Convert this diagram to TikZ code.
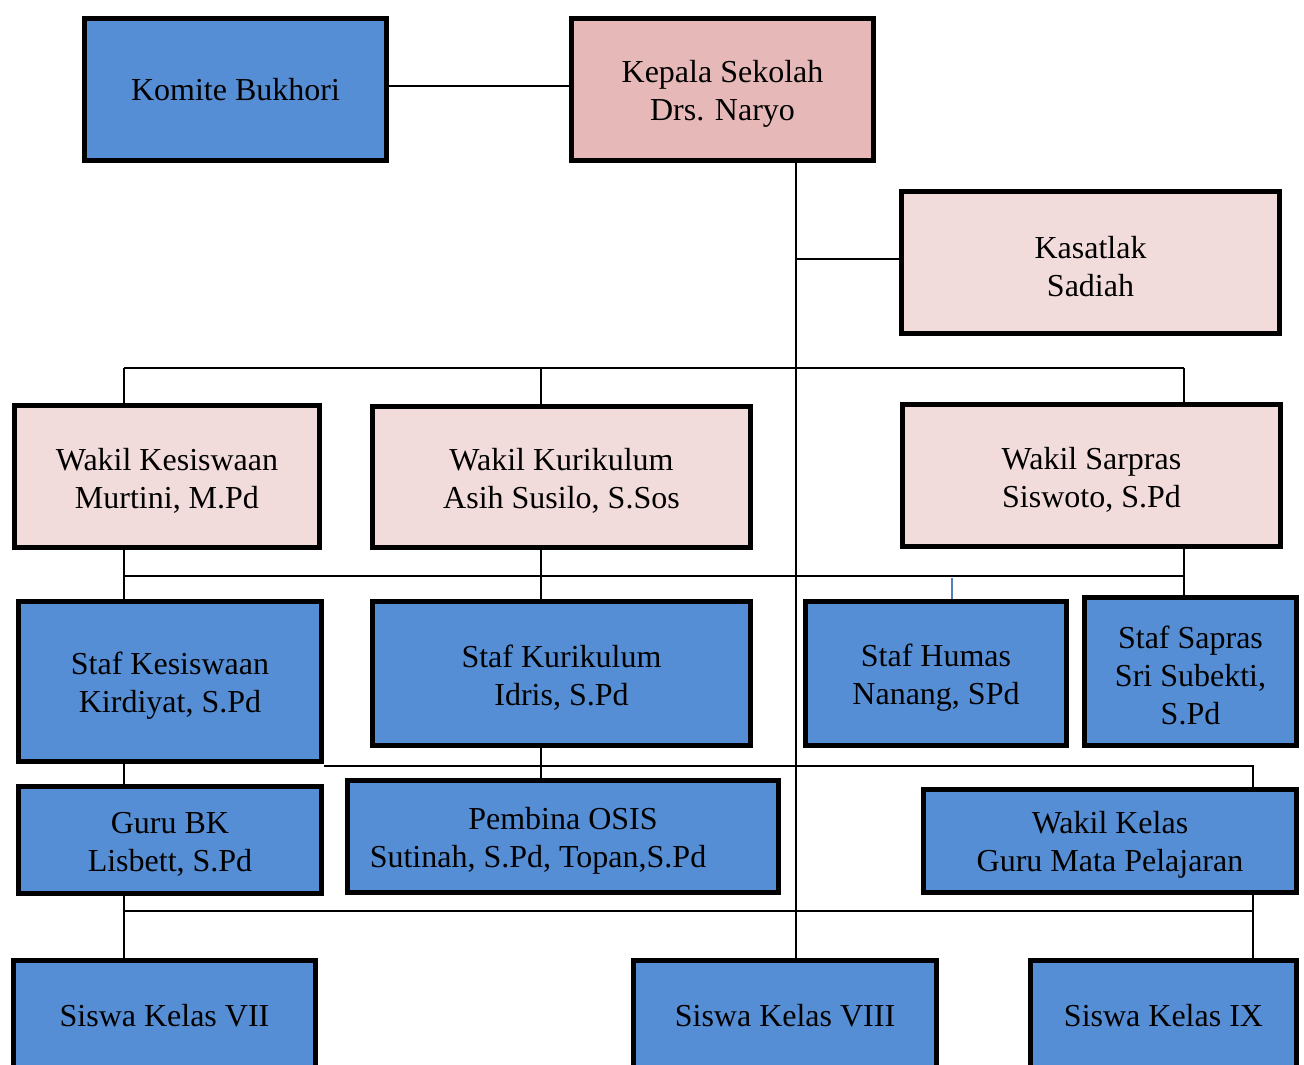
\documentclass[tikz,border=0pt]{standalone}
\usepackage{fontspec}
\setmainfont{Liberation Serif}
\definecolor{boxblue}{HTML}{558ED5}
\definecolor{boxpink}{HTML}{E6B9B8}
\definecolor{boxlight}{HTML}{F2DCDB}
\definecolor{tickblue}{HTML}{4F81BD}
\tikzset{
  orgbox/.style={draw=black, line width=2.5pt, rectangle, inner sep=0pt},
  bluebox/.style={orgbox, fill=boxblue},
  pinkbox/.style={orgbox, fill=boxpink},
  lightbox/.style={orgbox, fill=boxlight},
  boxtext/.style={inner sep=0pt, align=center, font=\fontsize{16}{19}\selectfont},
  conn/.style={draw=black, line width=1pt}
}
\newcommand\orgnode[8][-2pt]{%
  \node[#3, minimum width={(#6-#4)*0.5pt-2.5pt}, minimum height={(#7-#5)*0.5pt-2.5pt}]
    (#2) at ({(#4+#6)/2},{(#5+#7)/2}) {};
  \node[boxtext, yshift=#1] (#2t) at (#2.center) {#8};}
\begin{document}
\begin{tikzpicture}[x=0.5pt,y=-0.5pt]
\useasboundingbox (0,0) rectangle (1304,1064);
\clip (0,0) rectangle (1304,1064);
% boxes
\orgnode[0pt]{komite}{bluebox}{82}{16}{389}{163}{Komite Bukhori}
\orgnode{kepala}{pinkbox}{569}{16}{876}{163}{Kepala Sekolah\\Drs. Naryo}
\orgnode{kasatlak}{lightbox}{899}{189}{1282}{336}{Kasatlak\\Sadiah}
\orgnode{wks}{lightbox}{12}{403}{322}{550}{Wakil Kesiswaan\\Murtini, M.Pd}
\orgnode{wkr}{lightbox}{370}{404}{753}{550}{Wakil Kurikulum\\Asih Susilo, S.Sos}
\orgnode{wsp}{lightbox}{900}{402}{1283}{549}{Wakil Sarpras\\Siswoto, S.Pd}
\orgnode{sks}{bluebox}{16}{599}{324}{764}{Staf Kesiswaan\\Kirdiyat, S.Pd}
\orgnode{skr}{bluebox}{370}{599}{753}{748}{Staf Kurikulum\\Idris, S.Pd}
\orgnode{shm}{bluebox}{803}{599}{1069}{748}{Staf Humas\\Nanang, SPd}
\orgnode{ssp}{bluebox}{1082}{595}{1299}{748}{Staf Sapras\\Sri Subekti,\\S.Pd}
\orgnode{gbk}{bluebox}{16}{784}{324}{896}{Guru BK\\Lisbett, S.Pd}
\orgnode{pos}{bluebox}{345}{778}{781}{895}{Pembina OSIS\\Sutinah, S.Pd, Topan,S.Pd\rule{25pt}{0pt}}
\orgnode{wkl}{bluebox}{921}{787}{1299}{895}{Wakil Kelas\\Guru Mata Pelajaran}
\orgnode[0pt]{s7}{bluebox}{11}{958}{318}{1074}{Siswa Kelas VII}
\orgnode[0pt]{s8}{bluebox}{631}{958}{939}{1074}{Siswa Kelas VIII}
\orgnode[0pt]{s9}{bluebox}{1028}{958}{1299}{1074}{Siswa Kelas IX}
% helper coordinates
\coordinate (spine) at (796,0);
\coordinate (xA) at (124,0);
\coordinate (xB) at (541,0);
\coordinate (xC) at (1184,0);
\coordinate (xD) at (1253,0);
\coordinate (xT) at (952,0);
\coordinate (b0) at (0,86);
\coordinate (bk) at (0,259);
\coordinate (b1) at (0,368);
\coordinate (b2) at (0,576);
\coordinate (b3) at (0,766);
\coordinate (b4) at (0,911);
% connectors
\draw[conn] (komite.east |- b0) -- (kepala.west |- b0);
\draw[conn] (kepala.south -| spine) -- (s8.north -| spine);
\draw[conn] (spine |- bk) -- (kasatlak.west |- bk);
\draw[conn] (xA |- b1) -- (xC |- b1);
\draw[conn] (xA |- b1) -- (xA |- wks.north);
\draw[conn] (xB |- b1) -- (xB |- wkr.north);
\draw[conn] (xC |- b1) -- (xC |- wsp.north);
\draw[conn] (xA |- b2) -- (xC |- b2);
\draw[conn] (xA |- wks.south) -- (xA |- sks.north);
\draw[conn] (xB |- wkr.south) -- (xB |- skr.north);
\draw[conn] (xC |- wsp.south) -- (xC |- ssp.north);
\draw[draw=tickblue, line width=0.6pt] ([yshift=-1pt]xT |- b2) -- (xT |- shm.north);
\draw[conn] (sks.east |- b3) -- (xD |- b3) -- (xD |- wkl.north);
\draw[conn] (xA |- sks.south) -- (xA |- gbk.north);
\draw[conn] (xB |- skr.south) -- (xB |- pos.north);
\draw[conn] (xA |- b4) -- (xD |- b4);
\draw[conn] (xA |- gbk.south) -- (xA |- s7.north);
\draw[conn] (xD |- wkl.south) -- (xD |- s9.north);
\end{tikzpicture}
\end{document}
